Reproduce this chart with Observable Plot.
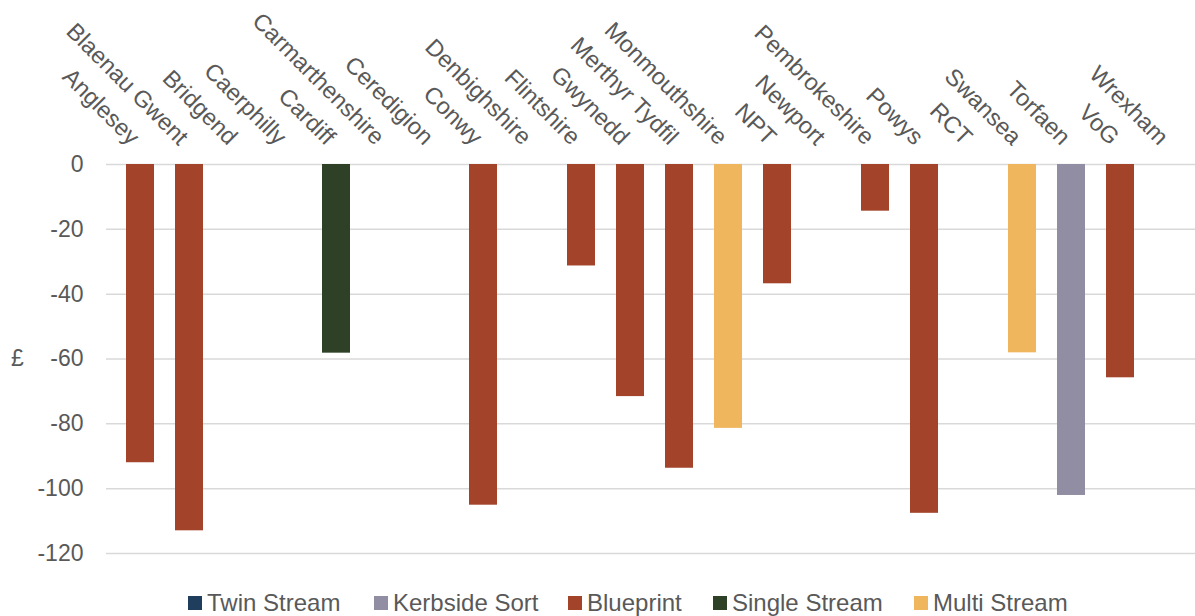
<!DOCTYPE html>
<html>
<head>
<meta charset="utf-8">
<script src="https://cdn.jsdelivr.net/npm/d3@7"></script>
<script src="https://cdn.jsdelivr.net/npm/@observablehq/plot@0.6"></script>
<style>
  html, body { margin: 0; padding: 0; background: #fff; }
  body { width: 1195px; height: 616px; overflow: hidden; font-family: "Liberation Sans", Arial, sans-serif; }
  #legend { position: relative; height: 26px; font-size: 24px; color: #595959; }
  .item { position: absolute; top: 0; display: flex; align-items: center; height: 26px; white-space: nowrap; }
  .sw { width: 14px; height: 14px; margin-right: 5px; }
</style>
</head>
<body>
<div id="chart"></div>
<div id="legend"></div>
<script>
const categories = ["Anglesey","Blaenau Gwent","Bridgend","Caerphilly","Cardiff","Carmarthenshire","Ceredigion","Conwy","Denbighshire","Flintshire","Gwynedd","Merthyr Tydfil","Monmouthshire","NPT","Newport","Pembrokeshire","Powys","RCT","Swansea","Torfaen","VoG","Wrexham"];
const values = [-92, -113, null, null, -58.2, null, null, -105.1, null, -31.3, -71.6, -93.7, -81.4, -36.8, null, -14.4, -107.6, null, -58.1, -102.1, -65.8, null];
const serviceType = ["Blueprint","Blueprint",null,null,"Single Stream",null,null,"Blueprint",null,"Blueprint","Blueprint","Blueprint","Multi Stream","Blueprint",null,"Blueprint","Blueprint",null,"Multi Stream","Kerbside Sort","Blueprint",null];
const seriesNames = ["Twin Stream","Kerbside Sort","Blueprint","Single Stream","Multi Stream"];
const seriesColors = ["#1F3D5C","#918EA4","#A2432A","#2E4025","#EFB65E"];
const yTicks = [0,-20,-40,-60,-80,-100,-120];
const yLabel = "£";

const rows = categories.map((c, i) => ({category: c, value: values[i], type: serviceType[i]}))
  .filter(d => d.value != null);

const W = 1195, H = 590, plotLeft = 106, mT = 164, mB = 37;
const step = 49.9, pad = 0.42;
// band scale frame chosen so that each category occupies `step` px starting at the plot's left edge
const shift = pad * step / 2;
const mL = plotLeft - shift;
const mR = W - (mL + step * (categories.length + pad));

const chart = Plot.plot({
  width: W,
  height: H,
  marginLeft: mL,
  marginRight: mR,
  marginTop: mT,
  marginBottom: mB,
  style: {fontFamily: '"Liberation Sans", Arial, sans-serif', fontSize: "23px", color: "#595959", background: "#fff", overflow: "visible"},
  x: {type: "band", domain: categories, padding: pad, axis: null},
  y: {domain: [-120, 0], ticks: yTicks, label: null},
  color: {domain: seriesNames, range: seriesColors},
  marks: [
    Plot.gridY(yTicks, {stroke: "#D9D9D9", strokeOpacity: 1, strokeWidth: 1.5, insetLeft: shift}),
    Plot.axisY(yTicks, {tickSize: 0, tickPadding: 23, dx: shift, fontSize: 23, fill: "#595959", label: null, tickFormat: d => d === 0 ? "0" : "-" + Math.abs(d)}),
    Plot.barY(rows, {x: "category", y1: 0, y2: "value", fill: "type"}),
    Plot.text(categories, {x: d => d, frameAnchor: "top", rotate: 45, textAnchor: "end", dy: -30, dx: 1, fontSize: 23.5, fill: "#595959"}),
    Plot.text([yLabel], {frameAnchor: "left", dx: -89 + shift, textAnchor: "middle", fontSize: 23, fill: "#595959"})
  ]
});
document.getElementById("chart").appendChild(chart);

const lefts = [188, 374, 568, 713, 914];
const legend = document.getElementById("legend");
seriesNames.forEach((n, i) => {
  const it = document.createElement("div");
  it.className = "item";
  it.style.left = lefts[i] + "px";
  const sw = document.createElement("span");
  sw.className = "sw";
  sw.style.background = seriesColors[i];
  const t = document.createElement("span");
  t.textContent = n;
  it.appendChild(sw); it.appendChild(t);
  legend.appendChild(it);
});
</script>
</body>
</html>
